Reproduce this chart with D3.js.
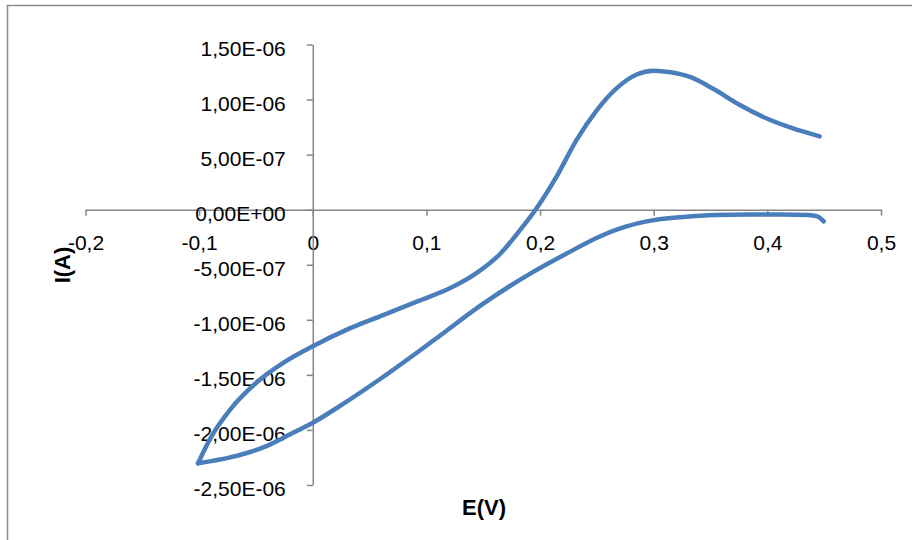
<!DOCTYPE html>
<html>
<head>
<meta charset="utf-8">
<script src="https://cdn.jsdelivr.net/npm/d3@7"></script>
<style>
  body { margin: 0; background: #fff; }
  text { font-family: "Liberation Sans", Arial, sans-serif; }
</style>
</head>
<body>
<div id="chart"></div>
<script>
/* DATA */

// cyclic voltammogram (E in V, I in A)
const potential = [0.446, 0.422, 0.399, 0.375, 0.352, 0.332, 0.315, 0.300, 0.285, 0.267,
                   0.250, 0.232, 0.215, 0.196, 0.182, 0.165, 0.144, 0.121, 0.092, 0.0625,
                   0.033, 0.0, -0.025, -0.049, -0.072, -0.0895, -0.101,
                   -0.072, -0.043, -0.019, 0.0, 0.025, 0.0596, 0.1064, 0.150, 0.194,
                   0.2234, 0.2526, 0.276, 0.299, 0.326, 0.355, 0.384, 0.413, 0.436, 0.444, 0.4496];
const current = [0.666e-6, 0.74e-6, 0.83e-6, 0.955e-6, 1.10e-6, 1.205e-6, 1.248e-6, 1.262e-6, 1.228e-6, 1.10e-6,
                 0.905e-6, 0.632e-6, 0.31e-6, 0.0, -0.19e-6, -0.40e-6, -0.576e-6, -0.712e-6, -0.833e-6, -0.955e-6,
                 -1.076e-6, -1.24e-6, -1.384e-6, -1.565e-6, -1.807e-6, -2.065e-6, -2.303e-6,
                 -2.247e-6, -2.156e-6, -2.035e-6, -1.935e-6, -1.775e-6, -1.535e-6, -1.186e-6, -0.853e-6, -0.565e-6,
                 -0.398e-6, -0.243e-6, -0.152e-6, -0.097e-6, -0.066e-6, -0.048e-6, -0.044e-6, -0.044e-6, -0.048e-6, -0.06e-6, -0.106e-6];

const xTicks = [-0.2, -0.1, 0, 0.1, 0.2, 0.3, 0.4, 0.5];
const xTickLabels = ["-0,2", "-0,1", "0", "0,1", "0,2", "0,3", "0,4", "0,5"];
const yTicks = [1.5e-6, 1.0e-6, 0.5e-6, 0, -0.5e-6, -1.0e-6, -1.5e-6, -2.0e-6, -2.5e-6];
const yTickLabels = ["1,50E-06", "1,00E-06", "5,00E-07", "0,00E+00", "-5,00E-07",
                     "-1,00E-06", "-1,50E-06", "-2,00E-06", "-2,50E-06"];

/* CHART */

const width = 912, height = 540;
const axisColor = "#868686";
const lineColor = "#4a7ebb";

const svg = d3.select("#chart").append("svg")
    .attr("width", width)
    .attr("height", height);

// chart area border (only top and left visible in the crop)
svg.append("path")
    .attr("d", "M7.5,540 L7.5,5.5 L912,5.5")
    .attr("fill", "none")
    .attr("stroke", "#8c8c8c")
    .attr("stroke-width", 1.5);

const x = d3.scaleLinear().domain([-0.2, 0.5]).range([85.5, 881]);
const y = d3.scaleLinear().domain([-2.5e-6, 1.5e-6]).range([485, 44.5]);

// x axis crosses at I = 0
const xAxis = svg.append("g")
    .attr("transform", `translate(0,${y(0)})`)
    .call(d3.axisBottom(x)
        .tickValues(xTicks)
        .tickFormat((d, i) => xTickLabels[i])
        .tickSize(6)
        .tickSizeOuter(0)
        .tickPadding(19));

// y axis crosses at E = 0
const yAxis = svg.append("g")
    .attr("transform", `translate(${x(0)},0)`)
    .call(d3.axisLeft(y)
        .tickValues(yTicks)
        .tickFormat((d, i) => yTickLabels[i])
        .tickSize(6)
        .tickSizeOuter(0)
        .tickPadding(21));

[xAxis, yAxis].forEach(g => {
    g.select(".domain").attr("stroke", axisColor).attr("stroke-width", 1.5);
    g.selectAll(".tick line").attr("stroke", axisColor).attr("stroke-width", 1.5);
    g.selectAll(".tick text")
        .attr("fill", "#000")
        .style("font-family", "'Liberation Sans', Arial, sans-serif")
        .style("font-size", "21px");
});
yAxis.selectAll(".tick text").attr("dy", "0.5em");

// curve: split at the switching potential so each scan is monotone in E
const points = potential.map((e, i) => ({ e: e, i: current[i] }));
const turn = d3.minIndex(potential);
const forward = points.slice(0, turn + 1).reverse();
const backward = points.slice(turn);

const line = d3.line()
    .x(d => x(d.e))
    .y(d => y(d.i))
    .curve(d3.curveMonotoneX);

svg.selectAll("path.scan")
    .data([forward, backward])
    .enter()
    .append("path")
    .attr("class", "scan")
    .attr("d", line)
    .attr("fill", "none")
    .attr("stroke", lineColor)
    .attr("stroke-width", 4.5)
    .attr("stroke-linecap", "round")
    .attr("stroke-linejoin", "round");

// axis titles
svg.append("text")
    .attr("x", 484)
    .attr("y", 515)
    .attr("text-anchor", "middle")
    .style("font-size", "22px")
    .style("font-weight", "bold")
    .text("E(V)");

svg.append("text")
    .attr("transform", "translate(70,265) rotate(-90)")
    .attr("text-anchor", "middle")
    .style("font-size", "22px")
    .style("font-weight", "bold")
    .text("I(A)");
</script>
</body>
</html>
